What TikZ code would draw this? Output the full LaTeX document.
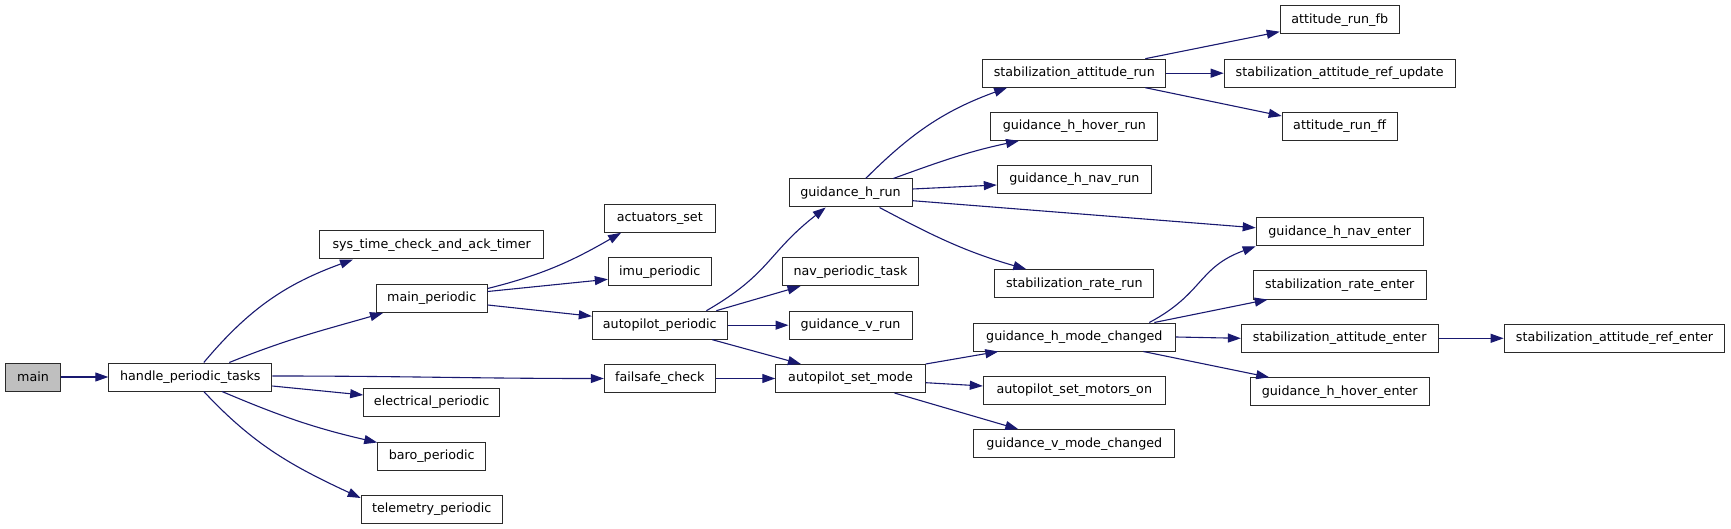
\documentclass[tikz,border=0pt]{standalone}
\usepackage{fontspec}
\setmainfont{DejaVu Sans}
\usetikzlibrary{arrows.meta}
\definecolor{edgeblue}{HTML}{191970}
\definecolor{boxline}{HTML}{2A2A2A}
\definecolor{mainfill}{HTML}{BFBFBF}
\newcommand{\fnfont}{\fontsize{12.7pt}{15pt}\selectfont}
\tikzset{
  fn/.style={draw=boxline, line width=1pt, fill=white, minimum height=28pt, inner sep=0pt, font=\fnfont},
  call/.style={draw=edgeblue, line width=1.1pt, -{Triangle[length=13pt,width=9pt]}, fill=none},
}
\begin{document}
\begin{tikzpicture}[x=1pt,y=1pt]
\useasboundingbox (0,0) rectangle (1731,-529);
% column 1
\node[fn, fill=mainfill, minimum width=55pt] (main) at (33.1,-377) {main};
\node[fn, minimum width=163pt] (handle) at (190.3,-377) {handle\_periodic\_tasks};
% column 2
\node[fn, minimum width=224pt] (systime) at (431.7,-245) {sys\_time\_check\_and\_ack\_timer};
\node[fn, minimum width=111pt] (mainper) at (431.7,-298.5) {main\_periodic};
\node[fn, minimum width=136pt] (elec) at (431.7,-402.5) {electrical\_periodic};
\node[fn, minimum width=108pt] (baro) at (431.7,-456) {baro\_periodic};
\node[fn, minimum width=141pt] (telem) at (431.7,-509) {telemetry\_periodic};
% column 3
\node[fn, minimum width=111pt] (act) at (659.8,-218.3) {actuators\_set};
\node[fn, minimum width=103pt] (imu) at (659.8,-271.7) {imu\_periodic};
\node[fn, minimum width=135pt] (appr) at (659.8,-325.2) {autopilot\_periodic};
\node[fn, minimum width=111pt] (failsafe) at (659.8,-378.5) {failsafe\_check};
% column 4
\node[fn, minimum width=123pt] (ghrun) at (850.5,-193) {guidance\_h\_run};
\node[fn, minimum width=136pt] (navtask) at (850.5,-271.7) {nav\_periodic\_task};
\node[fn, minimum width=123pt] (gvrun) at (850.5,-325.2) {guidance\_v\_run};
\node[fn, minimum width=149.5pt] (setmode) at (850.5,-378.5) {autopilot\_set\_mode};
% column 5
\node[fn, minimum width=183pt] (sarun) at (1074.3,-73.2) {stabilization\_attitude\_run};
\node[fn, minimum width=167pt] (ghhover) at (1074.3,-126.3) {guidance\_h\_hover\_run};
\node[fn, minimum width=154pt] (ghnav) at (1074.3,-179.5) {guidance\_h\_nav\_run};
\node[fn, minimum width=159pt] (srrun) at (1074.3,-283.7) {stabilization\_rate\_run};
\node[fn, minimum width=202pt] (ghmode) at (1074.3,-337) {guidance\_h\_mode\_changed};
\node[fn, minimum width=182pt] (motors) at (1074.3,-390.5) {autopilot\_set\_motors\_on};
\node[fn, minimum width=201pt] (gvmode) at (1074.3,-443.7) {guidance\_v\_mode\_changed};
% column 6
\node[fn, minimum width=119pt] (attfb) at (1339.7,-19.7) {attitude\_run\_fb};
\node[fn, minimum width=231pt] (refupd) at (1339.7,-73.2) {stabilization\_attitude\_ref\_update};
\node[fn, minimum width=115pt] (attff) at (1339.7,-126.5) {attitude\_run\_ff};
\node[fn, minimum width=167pt] (ghnaventer) at (1339.7,-231.8) {guidance\_h\_nav\_enter};
\node[fn, minimum width=172.6pt] (srenter) at (1339.7,-285) {stabilization\_rate\_enter};
\node[fn, minimum width=196.7pt] (saenter) at (1339.7,-338.3) {stabilization\_attitude\_enter};
\node[fn, minimum width=179pt] (ghhoverenter) at (1339.7,-391.8) {guidance\_h\_hover\_enter};
% column 7
\node[fn, minimum width=220.7pt] (refenter) at (1614.5,-338.3) {stabilization\_attitude\_ref\_enter};

% edges
\draw[call] (main.east) -- (handle.west);
\draw[call] ([xshift=13.5pt]handle.north) to[out=50,in=200] ([xshift=-78.7pt]systime.south);
\draw[call] ([xshift=39pt]handle.north) to[out=22,in=196] ([xshift=-48.7pt]mainper.south);
\draw[call] ([yshift=1pt]handle.east) to[out=0,in=180] (failsafe.west);
\draw[call] ([yshift=-9pt]handle.east) -- ([yshift=7.5pt]elec.west);
\draw[call] ([xshift=31.7pt]handle.south) to[out=-23,in=167] ([yshift=-1pt]baro.north west);
\draw[call] ([xshift=13.5pt]handle.south) to[out=-47,in=155] ([yshift=11pt]telem.west);

\draw[call] ([yshift=10pt]mainper.east) to[out=14,in=210] ([xshift=-38.7pt]act.south);
\draw[call] ([yshift=7pt]mainper.east) -- ([yshift=-7.6pt]imu.west);
\draw[call] ([yshift=-6.5pt]mainper.east) -- ([yshift=9pt]appr.west);

\draw[call] ([xshift=46.6pt]appr.north) to[out=30,in=218,looseness=1.2] ([xshift=-24.8pt]ghrun.south);
\draw[call] ([xshift=56.5pt]appr.north) -- ([xshift=-50pt]navtask.south);
\draw[call] (appr.east) -- (gvrun.west);
\draw[call] ([xshift=52.5pt]appr.south) -- ([xshift=-49.6pt]setmode.north);
\draw[call] (failsafe.east) -- (setmode.west);

\draw[call] ([xshift=15.2pt]ghrun.north) to[out=45,in=200] ([xshift=-67.2pt]sarun.south);
\draw[call] ([xshift=42.8pt]ghrun.north) to[out=20,in=192] ([xshift=-55.3pt]ghhover.south);
\draw[call] ([yshift=4pt]ghrun.east) -- ([yshift=-5.5pt]ghnav.west);
\draw[call] ([yshift=-7.7pt]ghrun.east) -- ([yshift=4pt]ghnaventer.west);
\draw[call] ([xshift=29pt]ghrun.south) to[out=-28,in=164] ([xshift=-48pt]srrun.north);

\draw[call] ([xshift=71pt]sarun.north) -- ([yshift=-12pt]attfb.west);
\draw[call] (sarun.east) -- (refupd.west);
\draw[call] ([xshift=71pt]sarun.south) -- ([yshift=10.5pt]attff.west);

\draw[call] (setmode.north east) -- ([xshift=-76pt]ghmode.south);
\draw[call] ([yshift=-4.2pt]setmode.east) -- ([yshift=4.5pt]motors.west);
\draw[call] ([xshift=44pt]setmode.south) -- ([xshift=-56pt]gvmode.north);

\draw[call] ([xshift=75pt]ghmode.north) to[out=28,in=200,looseness=1.2] (ghnaventer.south west);
\draw[call] ([xshift=80pt]ghmode.north) -- ([xshift=-72pt]srenter.south);
\draw[call] (ghmode.east) -- (saenter.west);
\draw[call] ([xshift=69pt]ghmode.south) -- ([xshift=-70.5pt]ghhoverenter.north);
\draw[call] (saenter.east) -- (refenter.west);
\end{tikzpicture}
\end{document}
